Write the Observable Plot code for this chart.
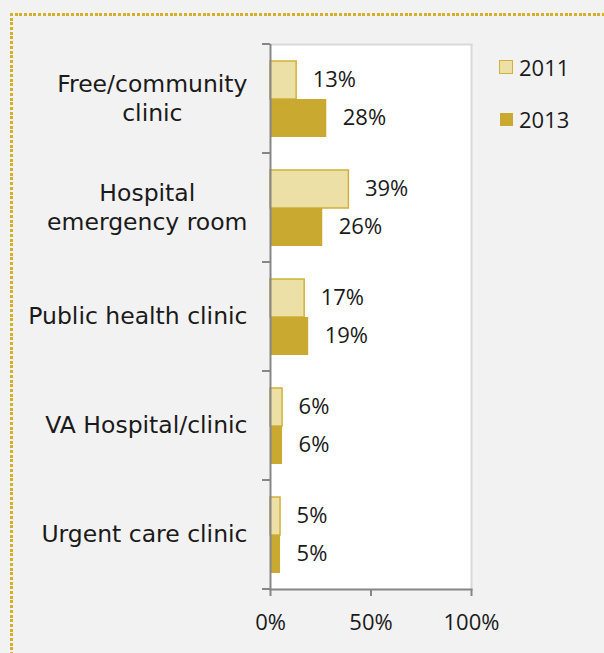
<!DOCTYPE html>
<html>
<head>
<meta charset="utf-8">
<script src="https://cdn.jsdelivr.net/npm/d3@7"></script>
<script src="https://cdn.jsdelivr.net/npm/@observablehq/plot@0.6"></script>
<style>
  html, body { margin: 0; padding: 0; background: #f2f2f2; }
  #wrap { position: relative; width: 604px; height: 653px; overflow: hidden; background: #f2f2f2; }
  #wrap svg { position: absolute; left: 0; top: 0; }
  .dots-top { position: absolute; left: 10px; top: 13px; width: 600px; height: 3px;
    background: repeating-linear-gradient(90deg, #d3b02c 0 3px, transparent 3px 4.7px); }
  .dots-left { position: absolute; left: 10px; top: 13px; width: 3px; height: 650px;
    background: repeating-linear-gradient(180deg, #d3b02c 0 3px, transparent 3px 4.7px); }
  #legend { position: absolute; left: 499px; top: 52px; font-family: "Open Sans", sans-serif; font-size: 22px; color: #1a1a1a; }
  #legend .row { display: flex; align-items: center; height: 30px; margin-bottom: 22px; }
  #legend .sw { box-sizing: border-box; width: 14px; height: 14px; margin-right: 6px; }
</style>
</head>
<body>
<div id="wrap">
  <div class="dots-top"></div>
  <div class="dots-left"></div>
  <div id="legend"></div>
</div>
<script>
const categories = ["Free/community\nclinic", "Hospital\nemergency room", "Public health clinic", "VA Hospital/clinic", "Urgent care clinic"];
const years = ["2011", "2013"];
const values2011 = [13, 39, 17, 6, 5];
const values2013 = [28, 26, 19, 6, 5];
const xTicks = [0, 50, 100];
const yearFills = ["#ece0a7", "#c9a92f"];
const yearStrokes = ["#d1b13a", "none"];

const data = categories.flatMap((c, i) => [
  {category: c, year: years[0], value: values2011[i]},
  {category: c, year: years[1], value: values2013[i]}
]);

const axisGray = "#868686";
const borderGray = "#d9d9d9";

const leftTicks = (index, scales, values, dimensions) => {
  const g = d3.create("svg:g");
  const x0 = scales.x(0);
  for (const y of [dimensions.marginTop, dimensions.height - dimensions.marginBottom]) {
    g.append("line").attr("x1", x0 - 8).attr("x2", x0).attr("y1", y).attr("y2", y)
      .attr("stroke", axisGray).attr("stroke-width", 2);
  }
  return g.node();
};

const chart = Plot.plot({
  width: 604,
  height: 653,
  marginLeft: 270,
  marginRight: 133,
  marginTop: 42,
  marginBottom: 62,
  style: {background: "transparent", overflow: "visible", fontFamily: "Open Sans", color: "#1a1a1a"},
  x: {domain: [0, 100], axis: null},
  y: {domain: years, paddingInner: 0, paddingOuter: 0.41, axis: null},
  fy: {domain: categories, padding: 0, axis: null},
  marks: [
    Plot.frame({fill: "white", stroke: "white", strokeWidth: 1}),
    Plot.ruleX([100], {stroke: borderGray, strokeWidth: 2}),
    Plot.frame({anchor: "top", facetAnchor: "top", stroke: borderGray, strokeWidth: 2}),
    ...years.map((yr, k) => Plot.barX(data.filter(d => d.year === yr), {
      fy: "category", y: "year", x: "value",
      fill: yearFills[k], stroke: yearStrokes[k], strokeWidth: 1.5
    })),
    Plot.text(data, {
      fy: "category", y: "year", x: "value",
      text: d => `${d.value}%`, textAnchor: "start", dx: 16, dy: -1,
      fontSize: 22, fontFamily: "Open Sans", fill: "#1a1a1a"
    }),
    Plot.ruleX([0], {stroke: axisGray, strokeWidth: 2}),
    leftTicks,
    Plot.frame({anchor: "bottom", facetAnchor: "bottom", stroke: axisGray, strokeWidth: 2}),
    Plot.axisX({
      anchor: "bottom", ticks: xTicks, tickFormat: d => `${d}%`,
      tickSize: 7, tickPadding: 18, stroke: axisGray, strokeWidth: 2,
      fontSize: 22, fontFamily: "Open Sans", fill: "#1a1a1a", label: null
    }),
    Plot.text(categories, {
      fy: d => d, text: d => d, frameAnchor: "left", textAnchor: "end", dx: -23, dy: -2,
      lineAnchor: "middle", lineHeight: 1.26, fontSize: 23.5, fontFamily: "DejaVu Sans",
      fill: "#1a1a1a"
    })
  ]
});

document.getElementById("wrap").appendChild(chart);

// Excel-style: multi-line category labels are right-aligned as a block, with lines centered.
chart.querySelectorAll("text").forEach(t => {
  const spans = t.querySelectorAll("tspan");
  if (spans.length > 1) {
    const w = Math.max(...Array.from(spans, s => s.getComputedTextLength()));
    t.setAttribute("text-anchor", "middle");
    t.style.textAnchor = "middle";
    spans.forEach(s => { s.setAttribute("x", -w / 2); s.setAttribute("text-anchor", "middle"); });
  }
});

const legend = document.getElementById("legend");
years.forEach((yr, k) => {
  const row = document.createElement("div");
  row.className = "row";
  const sw = document.createElement("span");
  sw.className = "sw";
  sw.style.background = yearFills[k];
  if (yearStrokes[k] !== "none") sw.style.border = `1.5px solid ${yearStrokes[k]}`;
  else { sw.style.width = "13px"; sw.style.height = "13px"; sw.style.marginLeft = "1px"; }
  const label = document.createElement("span");
  label.textContent = yr;
  row.append(sw, label);
  legend.appendChild(row);
});
</script>
</body>
</html>
